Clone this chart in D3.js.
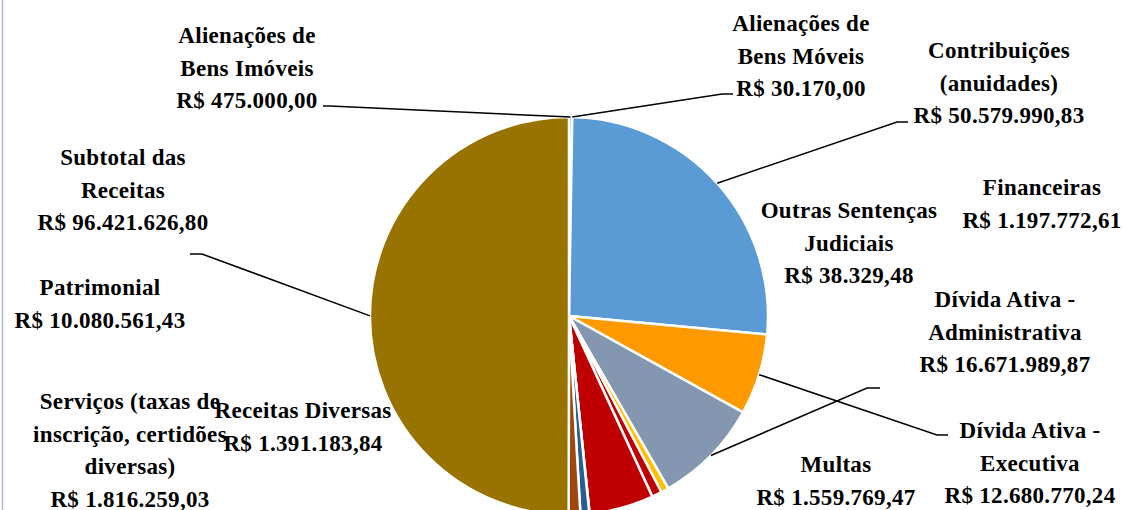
<!DOCTYPE html>
<html>
<head>
<meta charset="utf-8">
<script src="https://cdn.jsdelivr.net/npm/d3@7"></script>
<style>
  body { margin: 0; background: #fff; }
  svg { display: block; }
  .lbl { font-family: "Palatino Linotype", "Book Antiqua", "Liberation Serif", serif; font-weight: bold; font-size: 23px; letter-spacing: 0.3px; fill: #000; }
</style>
</head>
<body>
<div class="receitas"></div>
<script>
// categories (label text as broken in the chart) and values, clockwise from 12 o'clock
var categories = [
  "Alienações de\nBens Imóveis",
  "Alienações de\nBens Móveis",
  "Contribuições\n(anuidades)",
  "Dívida Ativa -\nExecutiva",
  "Dívida Ativa -\nAdministrativa",
  "Financeiras",
  "Multas",
  "Patrimonial",
  "Outras Sentenças\nJudiciais",
  "Receitas Diversas",
  "Serviços (taxas de\ninscrição, certidões\ndiversas)",
  "Subtotal das\nReceitas"
]
var values = [475000.00, 30170.00, 50579990.83, 12680770.24, 16671989.87, 1197772.61,
  1559769.47, 10080561.43, 38329.48, 1391183.84, 1816259.03, 96421626.80]
var colors = ["#4472C4", "#70AD47", "#5B9BD5", "#FF9900", "#8497B0", "#FFC000",
  "#C00000", "#C00000", "#264478", "#255E91", "#9E480E", "#997300"]

document.addEventListener("DOMContentLoaded", draw)

function draw() {
  var width = 1124,
    height = 510,
    cx = 569,
    cy = 316,
    radius = 199,
    lineH = 32.5;

  // where Excel put each data label (first baseline) and its leader line, if any
  var labelPos = [
    {x: 247, y: 43, leader: [[323, 106], [330, 106]]},
    {x: 801, y: 31, leader: [[733, 94], [722, 94]]},
    {x: 999, y: 58, leader: [[908, 122], [897, 122]]},
    {x: 1030, y: 438, leader: [[948, 435], [937, 435]]},
    {x: 1005, y: 307, leader: [[880, 388], [867, 388]]},
    {x: 1042, y: 195},
    {x: 836, y: 472},
    {x: 100, y: 295},
    {x: 849, y: 218},
    {x: 303, y: 418},
    {x: 130, y: 409},
    {x: 123, y: 165, leader: [[190, 254], [202, 254]]}
  ]

  var ptBR = d3.formatLocale({decimal: ",", thousands: ".", grouping: [3], currency: ["R$ ", ""]})
  var money = ptBR.format("$,.2f")

  var svg = d3.select(".receitas").append("svg")
    .attr("width", width)
    .attr("height", height)

  // chart area border on the left
  svg.append("line")
    .attr("x1", 2.5).attr("x2", 2.5)
    .attr("y1", 0).attr("y2", height)
    .attr("stroke", "#AAB8CC")
    .attr("stroke-width", 1.5)

  var pie = d3.pie().sort(null).value(function (d) { return d })
  var arcs = pie(values)
  var arc = d3.arc().innerRadius(0).outerRadius(radius)

  var g = svg.append("g").attr("transform", "translate(" + cx + "," + cy + ")")

  g.selectAll("path")
    .data(arcs)
    .enter().append("path")
    .attr("d", arc)
    .attr("fill", function (d, i) { return colors[i] })
    .attr("stroke", "#fff")
    .attr("stroke-width", 2.5)
    .attr("stroke-linejoin", "round")

  // leader lines: label -> elbow -> outer edge of slice at mid angle
  arcs.forEach(function (a, i) {
    var lp = labelPos[i]
    if (!lp.leader) return
    var mid = (a.startAngle + a.endAngle) / 2
    var end = [cx + Math.sin(mid) * radius, cy - Math.cos(mid) * radius]
    svg.append("path")
      .attr("d", d3.line()([lp.leader[0], lp.leader[1], end]))
      .attr("fill", "none")
      .attr("stroke", "#000")
      .attr("stroke-width", 1.5)
  })

  var labels = svg.selectAll(".lbl")
    .data(categories)
    .enter().append("text")
    .attr("class", "lbl")
    .attr("text-anchor", "middle")

  labels.each(function (name, i) {
    var lines = name.split("\n").concat([money(values[i])])
    var t = d3.select(this)
    lines.forEach(function (s, k) {
      t.append("tspan")
        .attr("x", labelPos[i].x)
        .attr("y", labelPos[i].y + k * lineH)
        .text(s)
    })
  })
}
</script>
</body>
</html>
